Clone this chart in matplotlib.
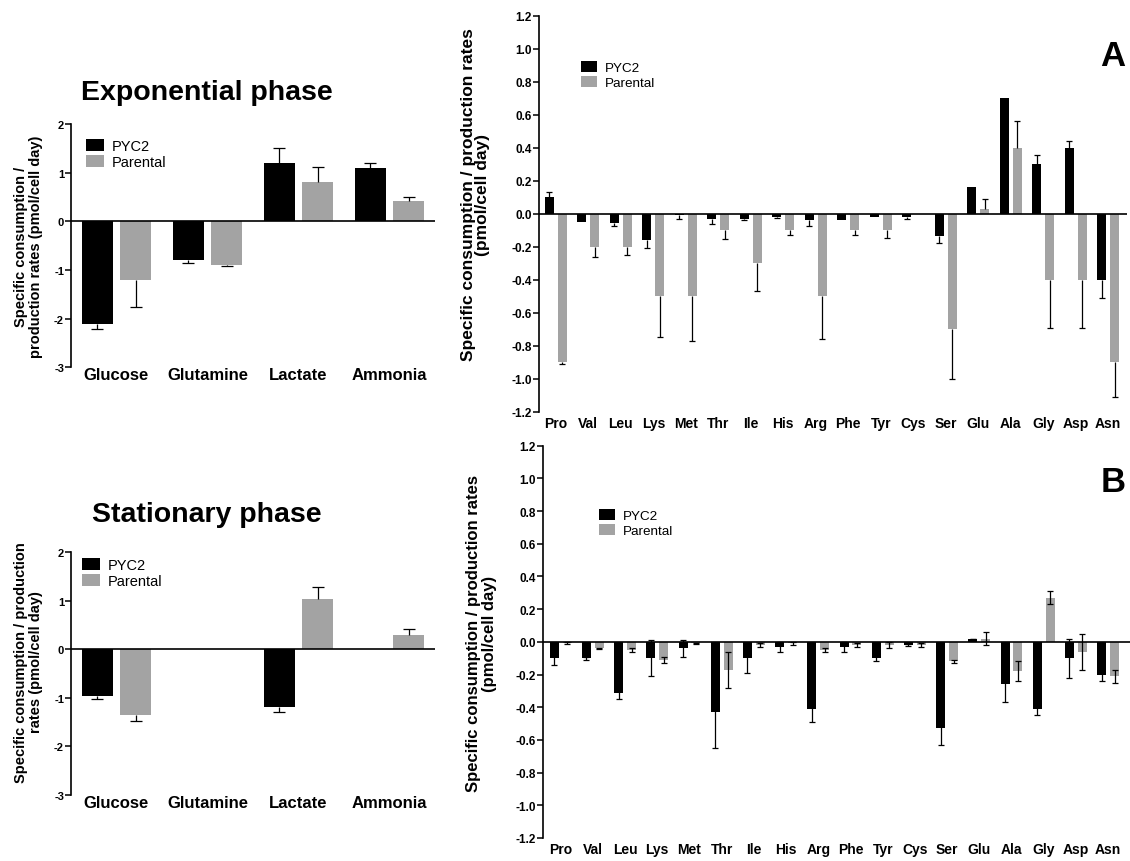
import matplotlib
matplotlib.use("Agg")
import matplotlib.pyplot as plt
import numpy as np
from matplotlib.patches import Patch

plt.rcParams['font.family'] = ['Liberation Sans', 'DejaVu Sans']
plt.rcParams['axes.unicode_minus'] = False

BLACK = "#000000"
GREY = "#a3a3a3"

# metabolites, rates in pmol/cell day
metabolites = ["Glucose", "Glutamine", "Lactate", "Ammonia"]

exp_pyc2 = [-2.1, -0.8, 1.2, 1.1]
exp_pyc2_err = [0.12, 0.05, 0.3, 0.1]
exp_parental = [-1.2, -0.9, 0.8, 0.42]
exp_parental_err = [0.56, 0.01, 0.32, 0.09]

stat_pyc2 = [-0.97, np.nan, -1.2, np.nan]
stat_pyc2_err = [0.06, np.nan, 0.1, np.nan]
stat_parental = [-1.35, np.nan, 1.04, 0.3]
stat_parental_err = [0.12, np.nan, 0.24, 0.11]

# amino acids
amino_acids = ["Pro", "Val", "Leu", "Lys", "Met", "Thr", "Ile", "His", "Arg",
               "Phe", "Tyr", "Cys", "Ser", "Glu", "Ala", "Gly", "Asp", "Asn"]

aa_a_pyc2 = [0.10, -0.05, -0.055, -0.16, -0.01, -0.035, -0.03, -0.02, -0.04,
             -0.04, -0.02, -0.02, -0.135, 0.16, 0.70, 0.30, 0.40, -0.40]
aa_a_pyc2_err = [0.03, 0.0, 0.02, 0.045, 0.02, 0.03, 0.01, 0.008, 0.035,
                 0.0, 0.0, 0.01, 0.045, 0.0, 0.0, 0.055, 0.04, 0.11]
aa_a_parental = [-0.90, -0.20, -0.20, -0.50, -0.50, -0.10, -0.30, -0.10, -0.50,
                 -0.10, -0.10, 0.0, -0.70, 0.03, 0.40, -0.40, -0.40, -0.90]
aa_a_parental_err = [0.01, 0.06, 0.05, 0.25, 0.27, 0.055, 0.17, 0.03, 0.26,
                     0.03, 0.05, 0.0, 0.30, 0.06, 0.16, 0.29, 0.29, 0.21]

aa_b_pyc2 = [-0.10, -0.10, -0.31, -0.10, -0.04, -0.43, -0.10, -0.03, -0.41,
             -0.03, -0.10, -0.02, -0.53, 0.02, -0.26, -0.41, -0.10, -0.20]
aa_b_pyc2_err = [0.04, 0.01, 0.04, 0.11, 0.05, 0.22, 0.09, 0.03, 0.08,
                 0.03, 0.02, 0.005, 0.10, 0.0, 0.11, 0.04, 0.12, 0.04]
aa_b_parental = [-0.01, -0.04, -0.05, -0.11, -0.01, -0.17, -0.02, -0.01, -0.05,
                 -0.02, -0.02, -0.02, -0.12, 0.02, -0.18, 0.27, -0.06, -0.21]
aa_b_parental_err = [0.006, 0.005, 0.01, 0.02, 0.003, 0.11, 0.01, 0.01, 0.01,
                     0.01, 0.02, 0.01, 0.01, 0.04, 0.06, 0.04, 0.11, 0.04]


def one_sided_err(ax, x, vals, errs, capsize):
    # error bar pointing away from zero, cap only at the tip
    vals = np.asarray(vals, dtype=float)
    errs = np.asarray(errs, dtype=float)
    up = np.where(vals >= 0, errs, 0)
    lo = np.where(vals < 0, errs, 0)
    ax.errorbar(x, vals, yerr=[lo, up], fmt='none', ecolor='black',
                elinewidth=0.9, capsize=0, zorder=3)
    tips = vals + np.where(vals >= 0, errs, -errs)
    ok = errs > 0
    ax.plot(np.asarray(x)[ok], tips[ok], ls='none', marker='_', color='black',
            markersize=capsize, markeredgewidth=0.9, zorder=3)


def style_axis(ax, fs_tick):
    for s in ['top', 'right', 'bottom']:
        ax.spines[s].set_visible(False)
    ax.spines['left'].set_linewidth(1.2)
    ax.axhline(0, color='black', lw=1.2, zorder=4)
    ax.tick_params(axis='y', direction='out', length=4, width=1.1,
                   labelsize=fs_tick, pad=1)
    ax.tick_params(axis='x', length=0)
    for t in ax.get_yticklabels():
        t.set_fontweight('bold')


def legend(ax, pos, fs):
    handles = [Patch(facecolor=BLACK, edgecolor='none', label='PYC2'),
               Patch(facecolor=GREY, edgecolor='none', label='Parental')]
    ax.legend(handles=handles, loc='upper left', bbox_to_anchor=pos,
              bbox_transform=ax.figure.transFigure, frameon=False,
              fontsize=fs, handlelength=1.2, handleheight=0.85,
              handletextpad=0.55, labelspacing=0.15, borderpad=0,
              borderaxespad=0)


fig = plt.figure(figsize=(11.3, 8.62), dpi=100)


# small panels: glucose / glutamine / lactate / ammonia
def metabolite_panel(rect, pyc2, pyc2_err, par, par_err, title, ylabel,
                     ylab_y, leg_pos, title_y):
    ax = fig.add_axes(rect)
    x = np.arange(len(metabolites))
    w = 0.345
    ax.bar(x - 0.21, pyc2, w, color=BLACK, zorder=2)
    ax.bar(x + 0.21, par, w, color=GREY, zorder=2)
    one_sided_err(ax, x - 0.21, pyc2, pyc2_err, 9)
    one_sided_err(ax, x + 0.21, par, par_err, 9)
    ax.set_xlim(-0.5, 3.5)
    ax.set_ylim(-3, 2)
    ax.set_yticks([-3, -2, -1, 0, 1, 2])
    ax.set_xticks(x)
    ax.set_xticklabels(metabolites, fontsize=12, fontweight='bold')
    ax.tick_params(axis='x', pad=0)
    style_axis(ax, 8)
    ax.set_ylabel(ylabel, fontsize=10.5, fontweight='bold', linespacing=1.1)
    ax.yaxis.set_label_coords(-0.077, ylab_y)
    legend(ax, leg_pos, 10.5)
    fig.text(0.183, title_y, title, fontsize=20.5, fontweight='bold',
             ha='center', va='center')
    return ax


metabolite_panel([0.0628, 0.5727, 0.3221, 0.2823], exp_pyc2, exp_pyc2_err,
                 exp_parental, exp_parental_err, "Exponential phase",
                 "Specific consumption /\nproduction rates (pmol/cell day)",
                 0.5, (0.0765, 0.8375), 1 - 93 / 862)
metabolite_panel([0.0628, 0.0769, 0.3221, 0.2812], stat_pyc2, stat_pyc2_err,
                 stat_parental, stat_parental_err, "Stationary phase",
                 "Specific consumption / production\nrates (pmol/cell day)",
                 0.55, (0.0728, 0.3515), 1 - 515 / 862)


def one_decimal(v, pos):
    return "%.1f" % (round(v, 1) + 0.0)


# amino acid panels
def amino_panel(rect, xlim, pyc2, pyc2_err, par, par_err, letter, letter_y,
                leg_pos, symmetric, ylab):
    ax = fig.add_axes(rect)
    x = np.arange(len(amino_acids))
    w = 0.28
    ax.bar(x - 0.2, pyc2, w, color=BLACK, zorder=2)
    ax.bar(x + 0.2, par, w, color=GREY, zorder=2)
    if symmetric:
        for xs, v, e in [(x - 0.2, pyc2, pyc2_err), (x + 0.2, par, par_err)]:
            ax.errorbar(xs, v, yerr=e, fmt='none', ecolor='black',
                        elinewidth=0.9, capsize=2.2, capthick=0.9, zorder=3)
    else:
        one_sided_err(ax, x - 0.2, pyc2, pyc2_err, 4)
        one_sided_err(ax, x + 0.2, par, par_err, 4)
    ax.set_xlim(*xlim)
    ax.set_ylim(-1.2, 1.2)
    ax.set_yticks(np.arange(-1.2, 1.21, 0.2))
    ax.yaxis.set_major_formatter(plt.FuncFormatter(one_decimal))
    ax.set_xticks(x)
    ax.set_xticklabels(amino_acids, fontsize=10, fontweight='bold')
    ax.tick_params(axis='x', pad=3)
    style_axis(ax, 8.5)
    fs, ls, lx, ly = ylab
    ax.set_ylabel("Specific consumption / production rates\n(pmol/cell day)",
                  fontsize=fs, fontweight='bold', linespacing=ls)
    ax.yaxis.set_label_coords(lx, ly)
    legend(ax, leg_pos, 9.7)
    fig.text(1113 / 1130, letter_y, letter, fontsize=25,
             fontweight='bold', ha='center', va='center')
    return ax


amino_panel([0.477, 0.5212, 0.5204, 0.4594], (-0.52, 17.58), aa_a_pyc2,
            aa_a_pyc2_err, aa_a_parental, aa_a_parental_err, "A",
            1 - 57 / 862, (0.514, 1 - 62 / 862), False,
            (12.5, 0.9, -0.083, 0.55))
amino_panel([0.4805, 0.0267, 0.5195, 0.4551], (-0.55, 17.68), aa_b_pyc2,
            aa_b_pyc2_err, aa_b_parental, aa_b_parental_err, "B",
            1 - 483 / 862, (0.530, 1 - 510 / 862), True,
            (12, 1.1, -0.078, 0.523))

fig.savefig("out.png", dpi=100)
